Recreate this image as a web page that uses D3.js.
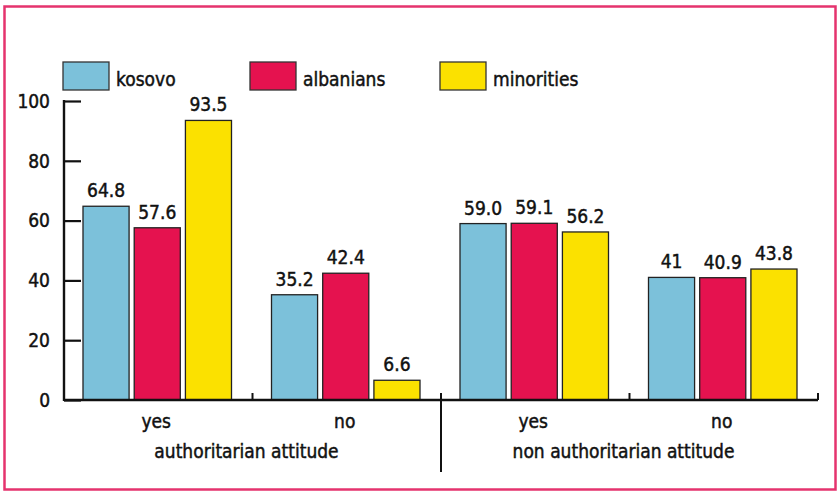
<!DOCTYPE html>
<html>
<head>
<meta charset="utf-8">
<script src="https://cdn.jsdelivr.net/npm/d3@7"></script>
<style>
  html, body { margin: 0; padding: 0; background: #fff; }
  svg { display: block; }
  text { font-family: "DejaVu Sans Condensed", "Liberation Sans Narrow", "Roboto", sans-serif; fill: #111; stroke: #111; stroke-width: 0.45px; }
</style>
</head>
<body>
<svg id="chart" width="840" height="493"></svg>
<script>
// Attitude survey: share of respondents by population group
const groups = ["authoritarian attitude", "non authoritarian attitude"];
const categories = ["yes", "no", "yes", "no"];
const series = ["kosovo", "albanians", "minorities"];
const colors = ["#7cc1da", "#e5124f", "#fbe100"];
const kosovo = [64.8, 35.2, 59.0, 41];
const albanians = [57.6, 42.4, 59.1, 40.9];
const minorities = [93.5, 6.6, 56.2, 43.8];
const kosovoLabels = ["64.8", "35.2", "59.0", "41"];
const albaniansLabels = ["57.6", "42.4", "59.1", "40.9"];
const minoritiesLabels = ["93.5", "6.6", "56.2", "43.8"];
const yTicks = [0, 20, 40, 60, 80, 100];

const values = [kosovo, albanians, minorities];
const labels = [kosovoLabels, albaniansLabels, minoritiesLabels];
const fs = 19;

const svg = d3.select("#chart");

// outer frame
svg.append("rect")
  .attr("x", 4.5).attr("y", 6.5).attr("width", 831).attr("height", 483)
  .attr("fill", "#fff").attr("stroke", "#e5336e").attr("stroke-width", 2.5);

const plotLeft = 64, plotRight = 818, plotTop = 101, plotBottom = 400;

const y = d3.scaleLinear().domain([0, 100]).range([plotBottom, plotTop]);
const x0 = d3.scaleBand().domain(d3.range(categories.length)).range([plotLeft, plotRight]).padding(0);
const x1 = d3.scaleBand().domain(series).range([19, x0.bandwidth() - 21]).paddingInner(0.1).paddingOuter(0);

// y axis: ticks point inward
const yAxis = d3.axisRight(y).tickValues(yTicks).tickSize(17).tickFormat("");
const ya = svg.append("g").attr("transform", `translate(${plotLeft},0)`).call(yAxis);
ya.select(".domain").remove();
ya.selectAll("line").attr("stroke", "#111").attr("stroke-width", 2.2);
svg.append("line").attr("x1", plotLeft).attr("x2", plotLeft).attr("y1", y(100) - 1).attr("y2", plotBottom + 1)
  .attr("stroke", "#111").attr("stroke-width", 2.4);

svg.append("g").selectAll("text").data(yTicks).join("text")
  .attr("x", 50).attr("y", d => y(d)).attr("dy", "0.36em")
  .attr("text-anchor", "end").attr("font-size", fs).text(d => d);

// bars
const cat = svg.append("g").selectAll("g").data(categories).join("g")
  .attr("transform", (d, i) => `translate(${x0(i)},0)`);

series.forEach((s, si) => {
  cat.append("rect")
    .attr("x", x1(s)).attr("width", x1.bandwidth())
    .attr("y", (d, i) => y(values[si][i]))
    .attr("height", (d, i) => y(0) - y(values[si][i]))
    .attr("fill", colors[si]).attr("stroke", "#222").attr("stroke-width", 1.3);
  cat.append("text")
    .attr("x", x1(s) + x1.bandwidth() / 2)
    .attr("y", (d, i) => y(values[si][i]) - 9)
    .attr("text-anchor", "middle").attr("font-size", fs)
    .text((d, i) => labels[si][i]);
});

// baseline and category boundary ticks
svg.append("line").attr("x1", plotLeft).attr("x2", plotRight).attr("y1", plotBottom).attr("y2", plotBottom)
  .attr("stroke", "#111").attr("stroke-width", 2.4);
d3.range(1, categories.length + 1).forEach(i => {
  const xb = i < categories.length ? x0(i) : plotRight;
  const isSep = i === 2;
  svg.append("line").attr("x1", xb).attr("x2", xb)
    .attr("y1", plotBottom - 7).attr("y2", isSep ? 472 : plotBottom)
    .attr("stroke", "#111").attr("stroke-width", 2);
});

// category labels
cat.append("text")
  .attr("x", x0.bandwidth() / 2 - 2).attr("y", 428)
  .attr("text-anchor", "middle").attr("font-size", fs)
  .text(d => d);

// group labels
const gx = d3.scaleBand().domain(groups).range([plotLeft, plotRight]);
svg.append("g").selectAll("text").data(groups).join("text")
  .attr("x", d => gx(d) + gx.bandwidth() / 2 - 6).attr("y", 458)
  .attr("text-anchor", "middle").attr("font-size", fs)
  .text(d => d);

// legend
const legX = [63, 250, 440];
const leg = svg.append("g").selectAll("g").data(series).join("g")
  .attr("transform", (d, i) => `translate(${legX[i]},62)`);
leg.append("rect").attr("width", 46).attr("height", 28)
  .attr("fill", (d, i) => colors[i]).attr("stroke", "#333").attr("stroke-width", 1.3);
leg.append("text").attr("x", 53).attr("y", 24).attr("font-size", fs).text(d => d);
</script>
</body>
</html>
